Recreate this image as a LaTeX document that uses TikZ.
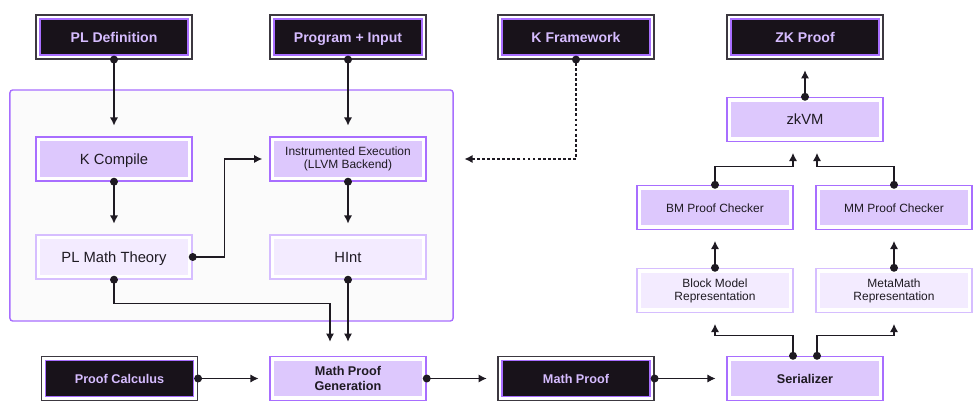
\documentclass[tikz,border=0pt]{standalone}
\usepackage{fontspec}
\setmainfont{Liberation Sans}
\usepackage{xcolor}
\usepackage{tikz}
\usetikzlibrary{arrows.meta, positioning, calc}
\definecolor{kpurple}{RGB}{168,110,255}
\definecolor{kpale}{RGB}{214,190,255}
\definecolor{kmauve}{RGB}{221,200,253}
\definecolor{klight}{RGB}{243,235,255}
\definecolor{kdark}{RGB}{24,18,26}
\definecolor{klav}{RGB}{214,188,255}
\definecolor{kframe}{RGB}{60,56,64}
\definecolor{kgray}{RGB}{251,251,251}
\definecolor{kink}{RGB}{30,26,34}

\begin{document}
\begin{tikzpicture}[x=0.025cm, y=-0.025cm,
  card/.style={minimum width=3.9cm, minimum height=1.1cm, inner sep=0pt, align=center, fill=white,
    text height=0.72em, text depth=0pt},
  twoline/.style={text height={}, text depth={}},
  darkbox/.style={card, draw=kframe, line width=0.8pt, text=klav,
    font=\bfseries\fontsize{10}{11}\selectfont,
    path picture={\draw[kpurple, line width=1.1pt, fill=kdark]
      ([shift={(2.8pt,2.8pt)}]path picture bounding box.south west) rectangle
      ([shift={(-2.8pt,-2.8pt)}]path picture bounding box.north east);}},
  lowdark/.style={darkbox, font=\bfseries\fontsize{9}{10}\selectfont},
  midbox/.style={card, draw=kpurple, line width=1pt, text=kink,
    font=\fontsize{10.5}{11.5}\selectfont,
    path picture={\fill[kmauve]
      ([shift={(3.2pt,3.2pt)}]path picture bounding box.south west) rectangle
      ([shift={(-3.2pt,-3.2pt)}]path picture bounding box.north east);}},
  lightbox/.style={midbox, draw=kpale,
    path picture={\fill[klight]
      ([shift={(3.2pt,3.2pt)}]path picture bounding box.south west) rectangle
      ([shift={(-3.2pt,-3.2pt)}]path picture bounding box.north east);}},
  small/.style={font=\fontsize{8.5}{9.2}\selectfont},
  smallbold/.style={font=\bfseries\fontsize{9}{10}\selectfont},
  conn/.style={line width=0.9pt, kink, {Circle[length=5.6pt]}-{Latex[length=5.8pt,width=5.8pt]},
    shorten <=-2.8pt, shorten >=7.6pt},
  dotconn/.style={conn, dash pattern=on 2pt off 1.6pt}]
\useasboundingbox (0,0) rectangle (978,405);
% K container
\node[draw=kpurple, fill=kgray, line width=1pt, rounded corners=2pt,
  minimum width=11.075cm, minimum height=5.775cm] (kbox) at (231.5,205.5) {};
% Inputs
\node[darkbox] (pldef) at (114,37) {PL Definition};
\node[darkbox] (proginp) at (348,37) {Program + Input};
\node[darkbox] (kfw) at (576,37) {K Framework};
\node[darkbox] (zkproof) at (805,37) {ZK Proof};
% Inside K
\node[midbox] (kcomp) at (114,159) {K Compile};
\node[midbox, small, twoline] (instr) at (348,159) {Instrumented Execution\\(LLVM Backend)};
\node[lightbox] (plmt) at (114,257) {PL Math Theory};
\node[lightbox] (hint) at (348,257) {HInt};
% Bottom row
\node[lowdark] (pcalc) at (119.5,378.5) {Proof Calculus};
\node[midbox, smallbold, twoline] (mpgen) at (348,378.5) {Math Proof\\Generation};
\node[lowdark] (mproof) at (576,378.5) {Math Proof};
\node[midbox, smallbold] (serial) at (805,378.5) {Serializer};
% Checking side
\node[lightbox, small, twoline] (bmrep) at (715,290.5) {Block Model\\Representation};
\node[lightbox, small, twoline] (mmrep) at (894,290.5) {MetaMath\\Representation};
\node[midbox, small] (bmchk) at (715,207.5) {BM Proof Checker};
\node[midbox, small] (mmchk) at (894,207.5) {MM Proof Checker};
\node[midbox] (zkvm) at (805,119.5) {zkVM};
% Connectors
\draw[conn] (pldef.south) -- (kcomp.north);
\draw[conn] (proginp.south) -- (instr.north);
\draw[dotconn] (kfw.south) |- (kbox.east |- instr.east);
\draw[conn] (kcomp.south) -- (plmt.north);
\draw[conn, shorten >=5pt] (plmt.east) -- ++(32,0) |- (instr.west);
\draw[conn] (instr.south) -- (hint.north);
\draw[conn, shorten >=10pt] (plmt.south) -- ++(0,24) -| ([xshift=-0.45cm]mpgen.north);
\draw[conn, shorten >=10pt] (hint.south) -- (mpgen.north);
\draw[conn] (pcalc.east) -- (mpgen.west);
\draw[conn] (mpgen.east) -- (mproof.west);
\draw[conn] (mproof.east) -- (serial.west);
\draw[conn] ([xshift=-0.3cm]serial.north) -- ++(0,-20) -| (bmrep.south);
\draw[conn] ([xshift=0.3cm]serial.north) -- ++(0,-20) -| (mmrep.south);
\draw[conn] (bmrep.north) -- (bmchk.south);
\draw[conn] (mmrep.north) -- (mmchk.south);
\draw[conn] (bmchk.north) -- ++(0,-18) -| ([xshift=-0.3cm]zkvm.south);
\draw[conn] (mmchk.north) -- ++(0,-18) -| ([xshift=0.3cm]zkvm.south);
\draw[conn] (zkvm.north) -- (zkproof.south);
\end{tikzpicture}
\end{document}
